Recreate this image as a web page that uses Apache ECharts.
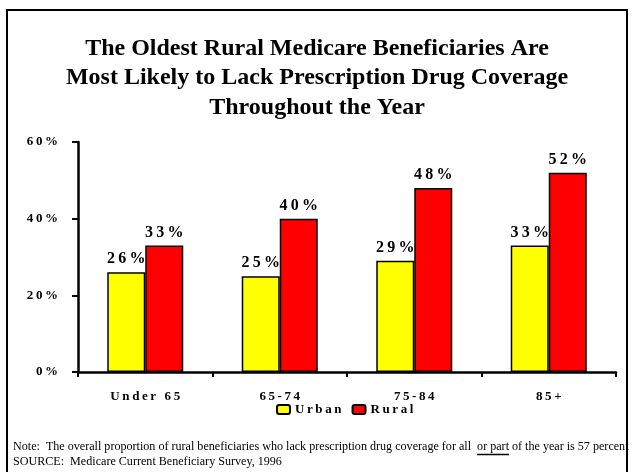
<!DOCTYPE html>
<html>
<head>
<meta charset="utf-8">
<script src="https://cdn.jsdelivr.net/npm/echarts@6/dist/echarts.min.js"></script>
<style>
  html, body { margin: 0; padding: 0; background: #fff; }
  #chart { width: 634px; height: 472px; }
</style>
</head>
<body>
<div id="chart"></div>
<script>
// Age groups and the share of beneficiaries lacking drug coverage all year (%)
const ageGroups = ['Under 65', '65-74', '75-84', '85+'];
const urbanValues = [26, 25, 29, 33];
const ruralValues = [33, 40, 48, 52];
const yTicks = [0, 20, 40, 60];
const seriesNames = ['Urban', 'Rural'];

const titleLines = [
  'The Oldest Rural Medicare Beneficiaries Are',
  'Most Likely to Lack Prescription Drug Coverage',
  'Throughout the Year'
];
const noteBefore = 'Note:  The overall proportion of rural beneficiaries who lack prescription drug coverage for all  ';
const noteUnderlined = 'or part';
const noteAfter = ' of the year is 57 percent';
const sourceLine = 'SOURCE:  Medicare Current Beneficiary Survey, 1996';

const SERIF = '"Liberation Serif", "Times New Roman", serif';
const NOTE_FONT = '12.1px ' + SERIF;

// spread the letters of bold labels apart
const spaced = s => String(s).split('').join('\u2009');

// measure the note pieces so the underlined words sit inline
const measureCtx = document.createElement('canvas').getContext('2d');
measureCtx.font = NOTE_FONT;
const noteX = 13;
const xUnder = noteX + measureCtx.measureText(noteBefore).width;
const wUnder = measureCtx.measureText(noteUnderlined).width;
const xAfter = xUnder + wUnder;

const chart = echarts.init(document.getElementById('chart'), null, { renderer: 'canvas' });

const labelStyle = {
  show: true,
  position: 'top',
  distance: 5,
  fontFamily: SERIF,
  fontWeight: 'bold',
  fontSize: 16,
  color: '#000',
  formatter: p => spaced(p.value + '%')
};

const noteText = (x, y, text) => ({
  type: 'text',
  x: x,
  y: y,
  style: { text: text, font: NOTE_FONT, fill: '#000', textVerticalAlign: 'middle' },
  silent: true
});

chart.setOption({
  animation: false,
  backgroundColor: '#fff',
  textStyle: { fontFamily: SERIF },
  title: {
    text: titleLines.join('\n'),
    left: 'center',
    top: 29,
    textStyle: {
      fontFamily: SERIF,
      fontWeight: 'bold',
      fontSize: 24,
      lineHeight: 29.5,
      color: '#000'
    }
  },
  legend: {
    data: seriesNames,
    left: 271,
    top: 398,
    itemWidth: 13,
    itemHeight: 9,
    itemGap: 10,
    formatter: name => spaced(name),
    textStyle: { fontFamily: SERIF, fontWeight: 'bold', fontSize: 13, color: '#000', padding: [0, 0, 0, 0] },
    itemStyle: { borderColor: '#000', borderWidth: 2 }
  },
  grid: { left: 78, right: 18, top: 142, bottom: 100, containLabel: false },
  xAxis: {
    type: 'category',
    data: ageGroups,
    axisLine: { lineStyle: { color: '#000', width: 2.5 } },
    axisTick: { show: true, length: 5, lineStyle: { color: '#000', width: 2 } },
    axisLabel: {
      margin: 18,
      fontFamily: SERIF,
      fontWeight: 'bold',
      fontSize: 13,
      color: '#000',
      formatter: v => spaced(v)
    }
  },
  yAxis: {
    type: 'value',
    min: yTicks[0],
    max: yTicks[yTicks.length - 1],
    interval: yTicks[1] - yTicks[0],
    axisLine: { show: true, lineStyle: { color: '#000', width: 2.5 } },
    axisTick: { show: true, length: 6, lineStyle: { color: '#000', width: 2 } },
    splitLine: { show: false },
    axisLabel: {
      margin: 20,
      fontFamily: SERIF,
      fontWeight: 'bold',
      fontSize: 13,
      color: '#000',
      formatter: v => spaced(v + '%')
    }
  },
  series: [
    {
      name: seriesNames[0],
      type: 'bar',
      data: urbanValues,
      barWidth: 38,
      barGap: '0%',
      itemStyle: { color: '#ffff00', borderColor: '#000', borderWidth: 1.5 },
      label: labelStyle
    },
    {
      name: seriesNames[1],
      type: 'bar',
      data: ruralValues,
      barWidth: 38,
      barGap: '0%',
      itemStyle: { color: '#ff0000', borderColor: '#000', borderWidth: 1.5 },
      label: labelStyle
    }
  ],
  graphic: [
    {
      type: 'rect',
      shape: { x: 7, y: 10, width: 620, height: 480 },
      style: { fill: 'none', stroke: '#000', lineWidth: 2 },
      silent: true
    },
    noteText(noteX, 447, noteBefore),
    noteText(xUnder, 447, noteUnderlined),
    noteText(xAfter, 447, noteAfter),
    {
      type: 'line',
      shape: { x1: xUnder, y1: 454.5, x2: xUnder + wUnder, y2: 454.5 },
      style: { stroke: '#000', lineWidth: 1.5 },
      silent: true
    },
    noteText(noteX, 462, sourceLine)
  ]
});
</script>
</body>
</html>
